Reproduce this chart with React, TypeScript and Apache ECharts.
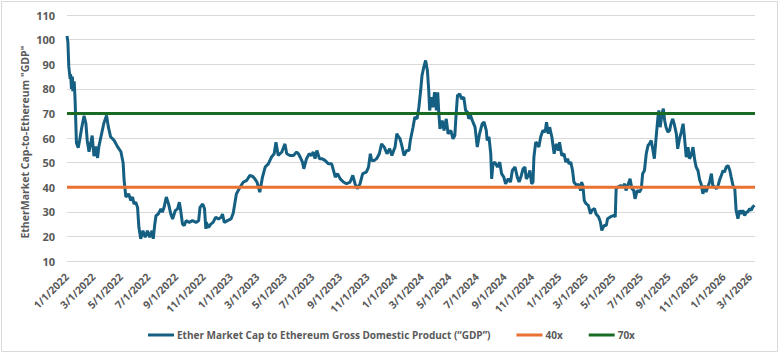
import React, { useEffect, useRef } from "react";
import * as echarts from "echarts";

const seriesName = "Ether Market Cap to Ethereum Gross Domestic Product (\u201cGDP\u201d)";
const lowName = "40x";
const highName = "70x";
const yTitle = 'EtherMarket Cap-to-Ethereum "GDP"';
const lowLevel = 40;
const highLevel = 70;
const axisStart = "2022-01-01";
const axisEnd = "2026-03-12";
const yTicks = [10, 20, 30, 40, 50, 60, 70, 80, 90, 100, 110];
const xLabelDates = [
  "2022-01-01", "2022-03-01", "2022-05-01", "2022-07-01", "2022-09-01", "2022-11-01",
  "2023-01-01", "2023-03-01", "2023-05-01", "2023-07-01", "2023-09-01", "2023-11-01",
  "2024-01-01", "2024-03-01", "2024-05-01", "2024-07-01", "2024-09-01", "2024-11-01",
  "2025-01-01", "2025-03-01", "2025-05-01", "2025-07-01", "2025-09-01", "2025-11-01",
  "2026-01-01", "2026-03-01",
];

const dates = [
  "2022-01-01", "2022-01-03", "2022-01-05", "2022-01-08", "2022-01-09", "2022-01-11", "2022-01-13", "2022-01-14",
  "2022-01-17", "2022-01-19", "2022-01-22", "2022-01-26", "2022-01-29", "2022-02-03", "2022-02-08", "2022-02-12",
  "2022-02-15", "2022-02-19", "2022-02-23", "2022-02-26", "2022-03-02", "2022-03-06", "2022-03-10", "2022-03-13",
  "2022-03-17", "2022-03-24", "2022-03-30", "2022-04-03", "2022-04-08", "2022-04-16", "2022-04-23", "2022-05-01",
  "2022-05-06", "2022-05-08", "2022-05-12", "2022-05-18", "2022-05-23", "2022-05-27", "2022-05-30", "2022-06-03",
  "2022-06-07", "2022-06-10", "2022-06-14", "2022-06-19", "2022-06-24", "2022-06-29", "2022-07-04", "2022-07-09",
  "2022-07-12", "2022-07-15", "2022-07-18", "2022-07-23", "2022-07-29", "2022-08-01", "2022-08-05", "2022-08-10",
  "2022-08-15", "2022-08-20", "2022-08-24", "2022-08-30", "2022-09-04", "2022-09-08", "2022-09-11", "2022-09-15",
  "2022-09-19", "2022-09-23", "2022-09-30", "2022-10-07", "2022-10-15", "2022-10-21", "2022-10-24", "2022-10-30",
  "2022-11-03", "2022-11-06", "2022-11-07", "2022-11-12", "2022-11-17", "2022-11-22", "2022-11-28", "2022-12-04",
  "2022-12-10", "2022-12-13", "2022-12-17", "2022-12-24",
  "2023-01-01", "2023-01-06", "2023-01-13", "2023-01-21", "2023-01-28", "2023-02-05", "2023-02-12", "2023-02-18",
  "2023-02-23", "2023-02-28", "2023-03-06", "2023-03-12", "2023-03-18", "2023-03-25", "2023-04-01", "2023-04-07",
  "2023-04-11", "2023-04-16", "2023-04-24", "2023-05-01", "2023-05-05", "2023-05-12", "2023-05-20", "2023-05-27",
  "2023-05-31", "2023-06-04", "2023-06-09", "2023-06-12", "2023-06-18", "2023-06-24", "2023-06-29", "2023-07-03",
  "2023-07-07", "2023-07-11", "2023-07-17", "2023-07-22", "2023-07-29", "2023-08-06", "2023-08-13", "2023-08-17",
  "2023-08-21", "2023-08-26", "2023-09-01", "2023-09-08", "2023-09-15", "2023-09-23", "2023-09-29", "2023-10-04",
  "2023-10-09", "2023-10-15", "2023-10-21", "2023-10-29", "2023-11-03", "2023-11-07", "2023-11-10", "2023-11-16",
  "2023-11-21", "2023-11-27", "2023-12-02", "2023-12-08", "2023-12-14", "2023-12-20", "2023-12-25", "2023-12-29",
  "2024-01-01", "2024-01-05", "2024-01-09", "2024-01-12", "2024-01-16", "2024-01-21", "2024-01-27", "2024-02-01",
  "2024-02-04", "2024-02-10", "2024-02-14", "2024-02-19", "2024-02-23", "2024-02-27", "2024-03-01", "2024-03-05",
  "2024-03-09", "2024-03-13", "2024-03-16", "2024-03-18", "2024-03-22", "2024-03-25", "2024-03-29", "2024-04-02",
  "2024-04-05", "2024-04-07", "2024-04-10", "2024-04-15", "2024-04-19", "2024-04-24", "2024-04-28", "2024-05-04",
  "2024-05-09", "2024-05-13", "2024-05-16", "2024-05-19", "2024-05-24", "2024-05-28", "2024-06-02", "2024-06-06",
  "2024-06-10", "2024-06-13", "2024-06-17", "2024-06-21", "2024-06-27", "2024-07-02", "2024-07-07", "2024-07-13",
  "2024-07-17", "2024-07-22", "2024-07-24", "2024-07-28", "2024-08-01", "2024-08-03", "2024-08-06", "2024-08-10",
  "2024-08-16", "2024-08-21", "2024-08-25", "2024-08-30", "2024-09-03", "2024-09-09", "2024-09-14", "2024-09-18",
  "2024-09-24", "2024-09-29", "2024-10-03", "2024-10-07", "2024-10-12", "2024-10-16", "2024-10-19", "2024-10-24",
  "2024-10-27", "2024-10-31", "2024-11-03", "2024-11-05", "2024-11-09", "2024-11-13", "2024-11-16", "2024-11-20",
  "2024-11-25", "2024-11-30", "2024-12-03", "2024-12-07", "2024-12-10", "2024-12-15", "2024-12-20", "2024-12-25",
  "2024-12-30",
  "2025-01-01", "2025-01-06", "2025-01-11", "2025-01-15", "2025-01-19", "2025-01-22", "2025-01-26", "2025-01-30",
  "2025-02-02", "2025-02-08", "2025-02-13", "2025-02-17", "2025-02-19", "2025-02-22", "2025-02-25", "2025-03-01",
  "2025-03-06", "2025-03-11", "2025-03-14", "2025-03-20", "2025-03-23", "2025-03-29", "2025-04-02", "2025-04-05",
  "2025-04-10", "2025-04-15", "2025-04-18", "2025-04-24", "2025-05-02", "2025-05-05", "2025-05-07", "2025-05-11",
  "2025-05-17", "2025-05-22", "2025-05-26", "2025-05-29", "2025-06-02", "2025-06-07", "2025-06-11", "2025-06-15",
  "2025-06-18", "2025-06-23", "2025-06-28", "2025-07-02", "2025-07-05", "2025-07-09", "2025-07-13", "2025-07-17",
  "2025-07-20", "2025-07-24", "2025-07-28", "2025-07-31", "2025-08-04", "2025-08-08", "2025-08-10", "2025-08-13",
  "2025-08-17", "2025-08-20", "2025-08-23", "2025-08-26", "2025-08-30", "2025-09-03", "2025-09-06", "2025-09-10",
  "2025-09-14", "2025-09-18", "2025-09-21", "2025-09-25", "2025-09-29", "2025-10-03", "2025-10-06", "2025-10-10",
  "2025-10-14", "2025-10-17", "2025-10-21", "2025-10-25", "2025-10-29", "2025-11-01", "2025-11-05", "2025-11-09",
  "2025-11-12", "2025-11-16", "2025-11-20", "2025-11-23", "2025-11-27", "2025-12-01", "2025-12-05", "2025-12-08",
  "2025-12-12", "2025-12-16", "2025-12-20", "2025-12-23", "2025-12-27", "2025-12-31",
  "2026-01-03", "2026-01-07", "2026-01-11", "2026-01-15", "2026-01-18", "2026-01-22", "2026-01-26", "2026-01-29",
  "2026-02-02", "2026-02-06", "2026-02-10", "2026-02-13", "2026-02-17", "2026-02-21", "2026-02-24", "2026-02-28",
  "2026-03-04", "2026-03-07", "2026-03-11",
];

const ratio = [
  101.5, 99, 89, 84, 86, 80, 85, 79,
  83, 75.5, 58, 56, 59, 64.5, 69, 66,
  59, 54.4, 58, 61, 52.6, 56.6, 51.9, 56.6,
  60, 66, 69.2, 64.5, 60.5, 59, 56.6, 54.4,
  49.7, 43, 36, 37.3, 34.6, 36, 33.2, 33.9,
  31.8, 23.7, 19, 22.3, 19.6, 22.3, 19.6, 22.3,
  19, 24.4, 28.4, 29.1, 31.2, 29.8, 31.8, 36,
  33.2, 29.1, 27.1, 30.5, 31.2, 33.9, 30.5, 25,
  24.4, 26.4, 25.7, 26.4, 25.7, 26.4, 31.8, 33.2,
  31.2, 23, 25.7, 23.7, 25, 25.7, 27.8, 27.1,
  27.8, 29.1, 25.7, 26.4,
  27.1, 29.5, 37.3, 40, 42, 42.8, 44.8, 44.4,
  43.4, 42, 38, 44.1, 48.2, 49.5, 52.2, 53.6,
  58.3, 52.9, 54.3, 57.6, 53.6, 52.9, 52.9, 54.3,
  53.6, 52.2, 50.2, 47.5, 51.6, 53.6, 52.9, 54.3,
  51.6, 54.9, 51.6, 51.6, 50.9, 49.5, 49.5, 46.8,
  44.1, 45.5, 43.4, 42.1, 41.4, 42.1, 44.8, 41.4,
  39.4, 41.4, 45.5, 46.1, 48.2, 53.6, 50.9, 50.9,
  51.6, 53.6, 57.6, 56.3, 53.6, 55.6, 52.9, 54.9,
  56.3, 61.7, 60.4, 59.7, 57, 52.9, 54.9, 54.9,
  59, 64.4, 68.5, 67.8, 72.5, 79.3, 85.4, 88.8,
  91.5, 87.4, 79.3, 71.2, 76.6, 72.5, 78.6, 71.2,
  78.6, 71.2, 63.7, 67.1, 63.1, 67.8, 61.7, 63.1,
  59.7, 61, 69.8, 77.3, 77.9, 75.9, 76.6, 71.2,
  70.5, 67.8, 69.1, 67.1, 64.4, 56.3, 61.7, 65.8,
  66.5, 63.1, 59, 60.4, 53.6, 43.4, 49.5, 50.2,
  48.2, 50.2, 45.5, 44.1, 41.4, 43.4, 42.1, 46.8,
  48.2, 44.1, 42.1, 44.1, 47.5, 48.2, 43.4, 44.8,
  46.8, 41.4, 42.1, 52.2, 58.3, 57.6, 56.3, 60.4,
  63.1, 62.4, 66.4, 61.7, 64.4, 60.4, 53.6, 57.6,
  54.9,
  58.3, 52.9, 53.6, 50.2, 51.6, 49.5, 50.2, 46.8,
  42.1, 40.7, 41.1, 38.6, 42.1, 40.7, 34.6, 33.3,
  32.6, 29.2, 30.6, 31.3, 29.2, 27.9, 25.8, 22.4,
  24.4, 24.4, 27.2, 27.9, 28.6, 27.9, 39.4, 40.1,
  40.7, 40.1, 41.4, 38.7, 40.7, 43.4, 39.4, 38.7,
  35.3, 38.7, 38, 39.4, 45.5, 46.8, 53.6, 57,
  57.6, 59, 54.9, 51.6, 60.4, 68.5, 71.2, 64.4,
  69.8, 71.9, 67.1, 64.4, 62.4, 63.1, 65.8, 67.8,
  65.1, 61.7, 55.6, 59.7, 62.4, 65.8, 60.4, 52.2,
  56.3, 51.6, 52.9, 56.3, 50.9, 48.2, 46.8, 42.8,
  41.4, 37.3, 40.7, 38, 40.1, 42.1, 45.5, 40.7,
  40.1, 39.4, 40.7, 42.8, 44.8, 46.8,
  46.1, 48.2, 48.8, 46.8, 44.1, 40.7, 39.4, 30.6,
  27.2, 30.6, 29.2, 30.6, 28.5, 29.9, 29.9, 31.3,
  30.6, 32, 32.6,
];

const parseLocal = (s: string) => {
  const [y, m, d] = s.split("-").map(Number);
  return new Date(y, m - 1, d).getTime();
};

export default function App() {
  const ref = useRef<HTMLDivElement>(null);

  useEffect(() => {
    if (!ref.current) return;
    const chart = echarts.init(ref.current, null, { renderer: "svg" });
    const textColor = "#595959";
    const font = "'Open Sans', 'Liberation Sans', sans-serif";
    const start = parseLocal(axisStart);
    const end = parseLocal(axisEnd);

    chart.setOption({
      animation: false,
      backgroundColor: "#ffffff",
      grid: { left: 67, right: 25, top: 15, bottom: 93 },
      legend: {
        left: 143,
        top: 325,
        icon: "rect",
        itemWidth: 26,
        itemHeight: 3,
        itemGap: 26,
        textStyle: { color: textColor, fontFamily: font, fontWeight: "bold", fontSize: 10, padding: [0, 0, 0, -2] },
        data: [seriesName, lowName, highName],
      },
      xAxis: {
        type: "value",
        min: start,
        max: end,
        axisLine: { show: false },
        axisTick: { show: false },
        splitLine: { show: false },
        axisLabel: {
          customValues: xLabelDates.map(parseLocal),
          rotate: 45,
          margin: 14,
          color: textColor,
          fontFamily: font,
          fontWeight: "bold",
          fontSize: 10.5,
          formatter: (v: number) => {
            const d = new Date(v);
            return `${d.getMonth() + 1}/${d.getDate()}/${d.getFullYear()}`;
          },
        },
      },
      yAxis: {
        type: "value",
        min: yTicks[0],
        max: yTicks[yTicks.length - 1],
        interval: 10,
        axisLine: { show: false },
        axisTick: { show: false },
        axisLabel: { color: textColor, fontFamily: font, fontWeight: "bold", fontSize: 11, margin: 12 },
        splitLine: { lineStyle: { color: "#d9d9d9", width: 1 } },
      },
      series: [
        {
          name: seriesName,
          type: "line",
          symbol: "none",
          data: dates.map((d, i) => [parseLocal(d), ratio[i]]),
          lineStyle: { color: "#156082", width: 3 },
          itemStyle: { color: "#156082" },
          z: 2,
        },
        {
          name: lowName,
          type: "line",
          symbol: "none",
          data: [[start, lowLevel], [end, lowLevel]],
          lineStyle: { color: "#E97132", width: 3 },
          itemStyle: { color: "#E97132" },
          z: 3,
        },
        {
          name: highName,
          type: "line",
          symbol: "none",
          data: [[start, highLevel], [end, highLevel]],
          lineStyle: { color: "#196B24", width: 3 },
          itemStyle: { color: "#196B24" },
          z: 3,
        },
      ],
      graphic: [
        {
          type: "rect",
          shape: { x: 1.5, y: 1.5, width: 776, height: 350 },
          style: { fill: "none", stroke: "#d9d9d9", lineWidth: 1 },
          silent: true,
          z: -1,
        },
        {
          type: "text",
          x: 25,
          y: 142,
          rotation: Math.PI / 2,
          silent: true,
          style: {
            text: yTitle,
            fill: textColor,
            font: `bold 10.5px ${font}`,
            align: "center",
            verticalAlign: "middle",
          },
        },
      ],
    });

    return () => chart.dispose();
  }, []);

  return (
    <div
      ref={ref}
      style={{ position: "fixed", left: 0, top: 0, width: 780, height: 354, background: "#fff" }}
    />
  );
}
